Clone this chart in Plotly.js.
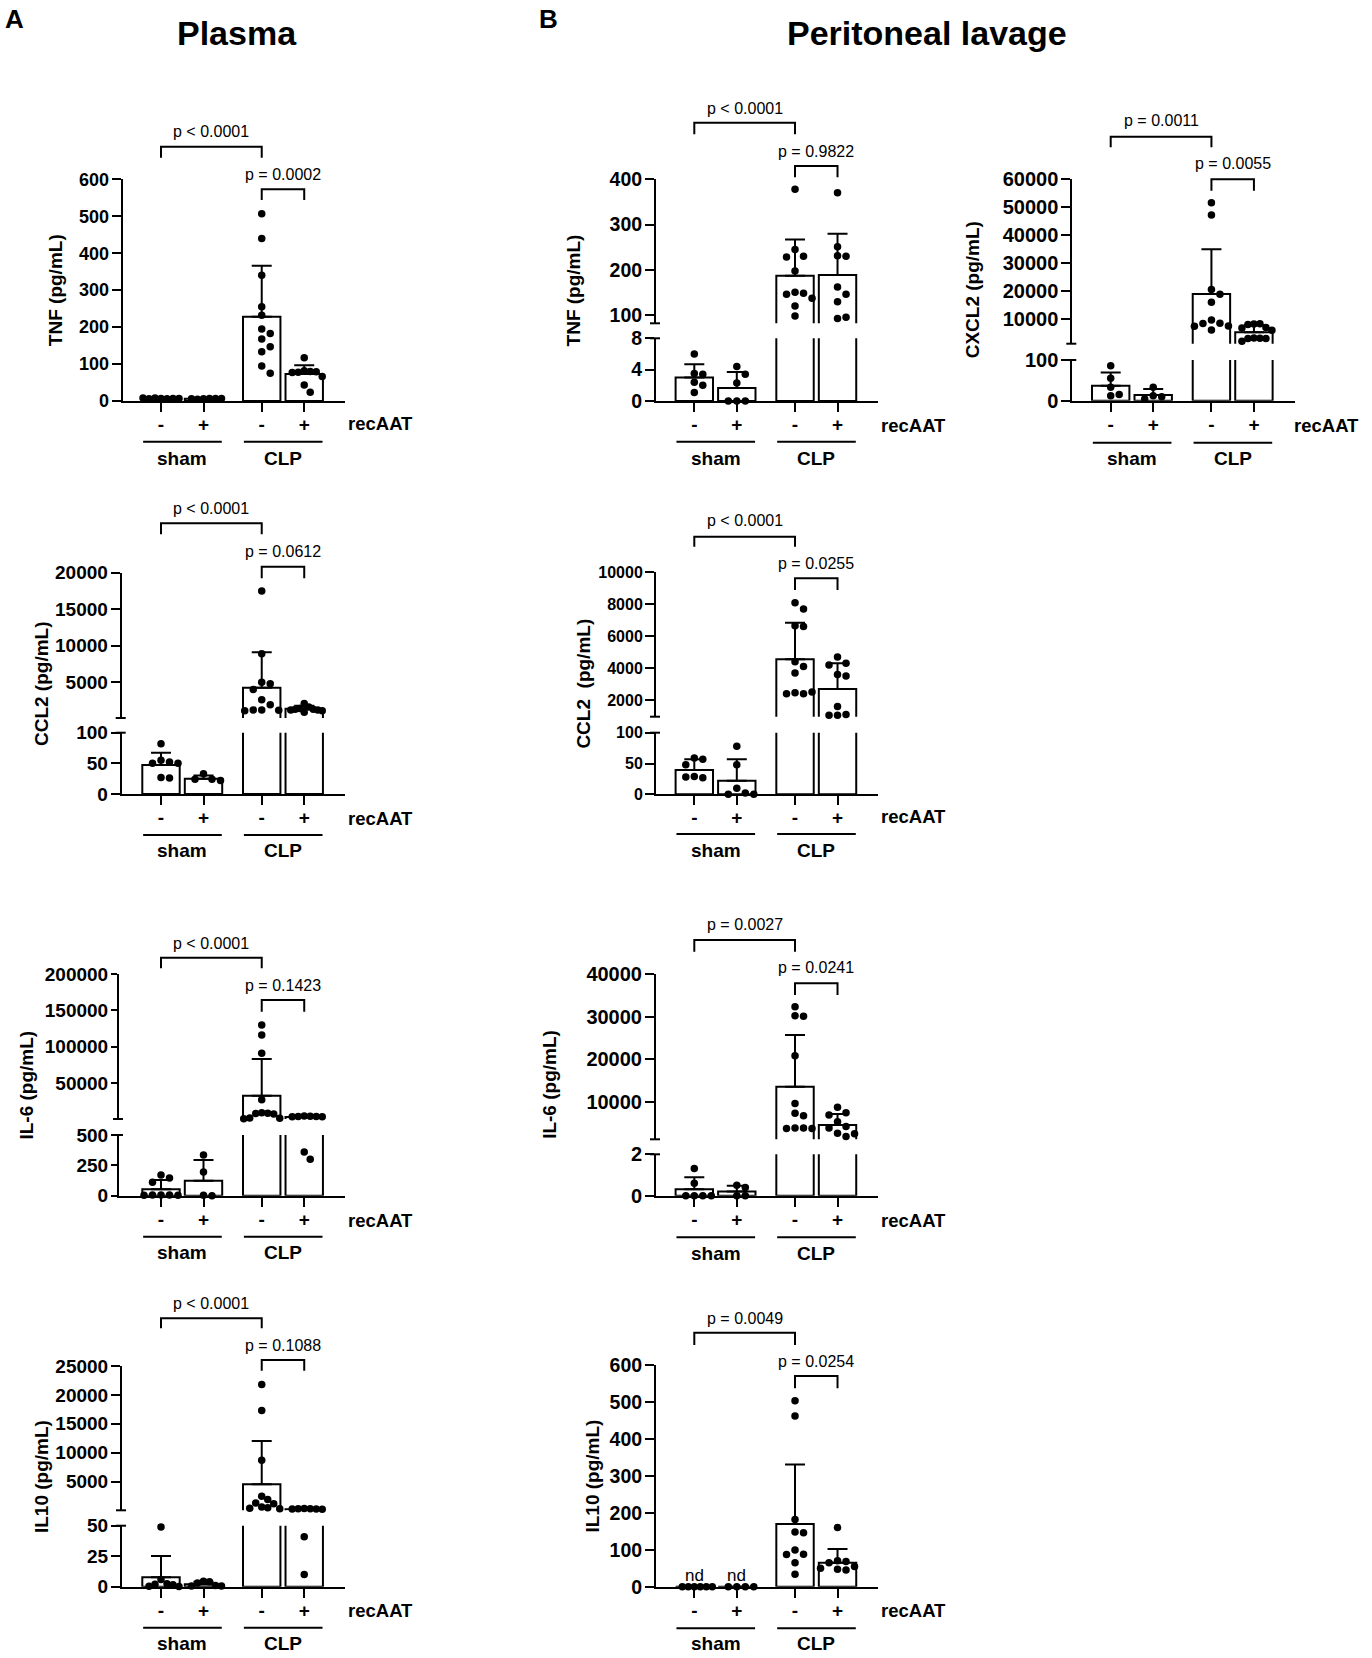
<!DOCTYPE html>
<html>
<head>
<meta charset="utf-8">
<script src="https://cdn.plot.ly/plotly-3.0.1.min.js"></script>
<style>
html, body { margin: 0; padding: 0; background: #fff; }
#chart { width: 1372px; height: 1658px; }
</style>
</head>
<body>
<div id="chart"></div>
<script>
// labels
const treatLabels = ['-', '+', '-', '+'];
const groupNames = ['sham', 'CLP'];

// Plasma TNF  (groups: sham-, sham+, CLP-, CLP+)
const tnfPlasmaPts = [
  [7, 6, 8, 7, 6, 7, 8],
  [6, 7, 5, 7, 6, 7],
  [507, 440, 340, 255, 232, 195, 183, 168, 147, 133, 95, 75],
  [117, 82, 80, 78, 79, 77, 66, 43, 24]
];
const tnfPlasmaMean = [7, 6.3, 228, 73];
const tnfPlasmaSD = [1, 1, 138, 24];
const tnfPlasmaP = ['p < 0.0001', 'p = 0.0002'];

// Peritoneal TNF
const tnfLavPts = [
  [6.0, 3.5, 3.4, 2.4, 2.0, 1.1],
  [4.4, 3.4, 2.3, 0, 0, 0],
  [378, 245, 230, 228, 197, 150, 148, 146, 137, 120, 98],
  [370, 251, 231, 230, 162, 146, 129, 92, 95]
];
const tnfLavMean = [3.0, 1.65, 187, 188.5];
const tnfLavSD = [1.7, 2.05, 80, 91];
const tnfLavP = ['p < 0.0001', 'p = 0.9822'];

// Peritoneal CXCL2
const cxcl2LavPts = [
  [86, 55, 33, 15, 12],
  [33, 12, 10, 4],
  [51600, 47200, 20600, 18900, 16000, 9600, 8500, 8400, 7500, 7400, 6100],
  [8200, 8300, 8000, 7000, 6800, 6000, 3200, 3100, 3000, 3000, 2000]
];
const cxcl2LavMean = [37, 14, 18950, 5240];
const cxcl2LavSD = [32, 15, 16000, 2620];
const cxcl2LavP = ['p = 0.0011', 'p = 0.0055'];

// Plasma CCL2
const ccl2PlasmaPts = [
  [82, 55, 52, 50, 50, 27, 26],
  [33, 24, 24, 22],
  [17500, 8900, 5000, 4800, 4000, 2600, 1900, 1200, 1200, 1150, 1100],
  [2100, 1600, 1400, 1300, 1300, 1200, 1200, 1100, 900]
];
const ccl2PlasmaMean = [47.3, 25, 4260, 1380];
const ccl2PlasmaSD = [20, 5, 4840, 400];
const ccl2PlasmaP = ['p < 0.0001', 'p = 0.0612'];

// Peritoneal CCL2
const ccl2LavPts = [
  [59, 57, 48, 29, 27, 28],
  [78, 48, 10, 2, 0, 0],
  [8100, 7700, 6650, 6600, 4400, 4100, 3700, 2450, 2400, 2400, 2500],
  [4700, 4300, 4200, 3600, 3500, 1600, 1100, 1050, 1050]
];
const ccl2LavMean = [39.4, 22, 4550, 2690];
const ccl2LavSD = [17.4, 34.8, 2290, 1610];
const ccl2LavP = ['p < 0.0001', 'p = 0.0255'];

// Plasma IL-6
const il6PlasmaPts = [
  [170, 145, 110, 6, 5, 5, 4, 3],
  [335, 195, 3, 0],
  [130000, 116000, 91000, 27000, 9000, 8500, 8000, 7500, 2000, 1500, 1000],
  [4500, 4200, 4000, 3800, 3600, 3500, 360, 300]
];
const il6PlasmaMean = [53, 124, 32500, 3300];
const il6PlasmaSD = [76, 170, 50500, 1500];
const il6PlasmaP = ['p < 0.0001', 'p = 0.1423'];

// Peritoneal IL-6
const il6LavPts = [
  [1.32, 0.6, 0, 0, 0, 0],
  [0.5, 0.4, 0, 0],
  [32300, 30200, 30100, 20800, 9600, 7300, 6700, 3800, 3800, 3700, 3700],
  [8700, 7400, 6900, 5300, 4200, 3800, 2600, 2500, 1800]
];
const il6LavMean = [0.31, 0.2, 13500, 4530];
const il6LavSD = [0.58, 0.28, 12150, 2580];
const il6LavP = ['p = 0.0027', 'p = 0.0241'];

// Plasma IL10
const il10PlasmaPts = [
  [49, 6, 2.5, 2, 1.5, 0.3, 0.2],
  [4.5, 4, 3, 1, 0.5, 0.5],
  [21800, 17300, 8700, 2500, 1900, 1300, 1200, 600, 500, 400, 300],
  [350, 330, 300, 280, 260, 250, 41, 10]
];
const il10PlasmaMean = [7.7, 2, 4550, 230];
const il10PlasmaSD = [17.5, 2.1, 7480, 120];
const il10PlasmaP = ['p < 0.0001', 'p = 0.1088'];

// Peritoneal IL10
const il10LavPts = [
  [0, 0, 0, 0, 0, 0],
  [0, 0, 0, 0],
  [503, 462, 182, 148, 146, 99, 88, 87, 65, 34],
  [160, 70, 68, 65, 55, 50, 47, 45]
];
const il10LavMean = [0, 0, 170, 65];
const il10LavSD = [0, 0, 161, 37];
const il10LavP = ['p = 0.0049', 'p = 0.0254'];
const il10LavNd = ['nd', 'nd', '', ''];

// ---- layout geometry (pixels of the 1372x1658 page) ----
const W = 1372, H = 1658;
const U = 42.5;                 // px per x unit
const POS = [0, 1, 2.37, 3.37]; // bar positions
const STEP = 8.5, DIST = 8, HALF = 18;
const FONT = '"Liberation Sans", Arial, Helvetica, sans-serif';
const px2x = v => v / W;
const px2y = v => 1 - v / H;

const panels = [
  { pts: tnfPlasmaPts, mean: tnfPlasmaMean, sd: tnfPlasmaSD, p: tnfPlasmaP, title: 'TNF (pg/mL)',
    xl: 122.7, x0: 161, tx: 55, rx: 380, tf: 18, tl: 9,
    segs: [{lo: 0, hi: 600, top: 179.3, bot: 401, ticks: [0, 100, 200, 300, 400, 500, 600]}],
    br: [146.7, 157.7, 131.7, 189.3, 200, 174], pm: 423.3, ul: 441.7, grp: 458.3 },
  { pts: tnfLavPts, mean: tnfLavMean, sd: tnfLavSD, p: tnfLavP, title: 'TNF (pg/mL)',
    xl: 656, x0: 694.3, tx: 573.3, rx: 913.3, tf: 19.5, tl: 9,
    segs: [{lo: 0, hi: 8, top: 338.3, bot: 401, ticks: [0, 4, 8]},
           {lo: 81.6, hi: 400, top: 179.3, bot: 323.3, ticks: [100, 200, 300, 400]}],
    br: [122.7, 134.3, 108.3, 166, 177.3, 151], pm: 425, ul: 441.7, grp: 458.3 },
  { pts: cxcl2LavPts, mean: cxcl2LavMean, sd: cxcl2LavSD, p: cxcl2LavP, title: 'CXCL2 (pg/mL)',
    xl: 1072.3, x0: 1110.7, tx: 973.3, rx: 1326.7, tf: 20, tl: 9,
    segs: [{lo: 0, hi: 100, top: 360, bot: 400.7, ticks: [0, 100]},
           {lo: 1160, hi: 60000, top: 179.3, bot: 343.7, ticks: [10000, 20000, 30000, 40000, 50000, 60000]}],
    br: [136.7, 147.3, 121, 179.3, 190.7, 164], pm: 425, ul: 442.7, grp: 458.3 },
  { pts: ccl2PlasmaPts, mean: ccl2PlasmaMean, sd: ccl2PlasmaSD, p: ccl2PlasmaP, title: 'CCL2 (pg/mL)',
    xl: 121.7, x0: 161, tx: 41.7, rx: 380, tf: 19, tl: 9,
    segs: [{lo: 0, hi: 100, top: 732.7, bot: 794, ticks: [0, 50, 100]},
           {lo: 100, hi: 20000, top: 572.7, bot: 718, ticks: [5000, 10000, 15000, 20000]}],
    br: [523.3, 534.3, 508.3, 566.7, 578.3, 551.7], pm: 818.3, ul: 835, grp: 850.7 },
  { pts: ccl2LavPts, mean: ccl2LavMean, sd: ccl2LavSD, p: ccl2LavP, title: 'CCL2\u00a0 (pg/mL)',
    xl: 656, x0: 694.3, tx: 583.3, rx: 913.3, tf: 16, tl: 9,
    segs: [{lo: 0, hi: 100, top: 732.7, bot: 794.3, ticks: [0, 50, 100]},
           {lo: 955, hi: 10000, top: 572.3, bot: 716.7, ticks: [2000, 4000, 6000, 8000, 10000]}],
    br: [536.7, 546.7, 520.7, 578.3, 590, 564], pm: 816.7, ul: 834, grp: 850 },
  { pts: il6PlasmaPts, mean: il6PlasmaMean, sd: il6PlasmaSD, p: il6PlasmaP, title: 'IL-6 (pg/mL)',
    xl: 119, x0: 161, tx: 26.7, rx: 380, tf: 19, tl: 6,
    segs: [{lo: 0, hi: 500, top: 1135, bot: 1195.7, ticks: [0, 250, 500]},
           {lo: 500, hi: 200000, top: 974, bot: 1119, ticks: [50000, 100000, 150000, 200000]}],
    br: [957.7, 968.3, 943.3, 1000, 1011.7, 985.7], pm: 1220, ul: 1236.7, grp: 1252.7 },
  { pts: il6LavPts, mean: il6LavMean, sd: il6LavSD, p: il6LavP, title: 'IL-6 (pg/mL)',
    xl: 656, x0: 694.3, tx: 550, rx: 913.3, tf: 20, tl: 9,
    segs: [{lo: 0, hi: 2, top: 1154.3, bot: 1195.7, ticks: [0, 2]},
           {lo: 1170, hi: 40000, top: 974, bot: 1139.3, ticks: [10000, 20000, 30000, 40000]}],
    br: [940, 951.7, 924, 983.3, 995, 967.7], pm: 1220.7, ul: 1237.3, grp: 1253.3 },
  { pts: il10PlasmaPts, mean: il10PlasmaMean, sd: il10PlasmaSD, p: il10PlasmaP, title: 'IL10 (pg/mL)',
    xl: 122, x0: 161, tx: 41.7, rx: 380, tf: 19, tl: 9,
    segs: [{lo: 0, hi: 50, top: 1525.7, bot: 1586.7, ticks: [0, 25, 50]},
           {lo: 50, hi: 25000, top: 1366, bot: 1510.3, ticks: [5000, 10000, 15000, 20000, 25000]}],
    br: [1318.3, 1328.3, 1303.3, 1360, 1370.7, 1345], pm: 1610.7, ul: 1627.7, grp: 1643.3 },
  { pts: il10LavPts, mean: il10LavMean, sd: il10LavSD, p: il10LavP, title: 'IL10 (pg/mL)', nd: il10LavNd, ndY: 1575,
    xl: 656, x0: 694.3, tx: 592.7, rx: 913.3, tf: 19.5, tl: 9,
    segs: [{lo: 0, hi: 600, top: 1365, bot: 1586.7, ticks: [0, 100, 200, 300, 400, 500, 600]}],
    br: [1332.7, 1345, 1318.3, 1376, 1388.3, 1361.7], pm: 1610.7, ul: 1628.3, grp: 1643.3 }
];

const data = [];
const shapes = [];
const annotations = [];
const layout = {
  width: W, height: H,
  margin: {l: 0, r: 0, t: 0, b: 0},
  paper_bgcolor: '#fff', plot_bgcolor: 'rgba(0,0,0,0)',
  showlegend: false, barmode: 'overlay',
  font: {family: FONT, color: '#000'},
  shapes: shapes, annotations: annotations
};

function txt(x, y, text, size, bold, xref, extra) {
  annotations.push(Object.assign({
    x: x, y: y, xref: xref || 'paper', yref: 'paper', text: text, showarrow: false,
    xanchor: 'center', yanchor: 'middle',
    font: {family: FONT, size: size, color: '#000', weight: bold ? 'bold' : 'normal'}
  }, extra || {}));
}

function hline(xa, xb, y, xref) {
  shapes.push({type: 'line', xref: xref, yref: 'paper', x0: xa, x1: xb, y0: px2y(y), y1: px2y(y),
    line: {color: '#000', width: 2}});
}

function bracket(xa, xb, yTop, yLeg, xref) {
  shapes.push({type: 'path', xref: xref, yref: 'paper',
    path: 'M ' + xa + ',' + px2y(yLeg) + ' L ' + xa + ',' + px2y(yTop) +
          ' L ' + xb + ',' + px2y(yTop) + ' L ' + xb + ',' + px2y(yLeg),
    line: {color: '#000', width: 2}});
}

// simple beeswarm in pixel space, returns x offsets in axis units
function swarm(vals, pn) {
  const placed = [];
  const out = vals.map(function (v) {
    const s = pn.segs.find(q => v >= q.lo && v <= q.hi) || pn.segs[0];
    const y = s.bot - (v - s.lo) / (s.hi - s.lo) * (s.bot - s.top);
    let dx = 0;
    for (let k = 0; k < 40; k++) {
      const off = (k % 2 ? 1 : -1) * Math.ceil(k / 2) * STEP;
      if (placed.every(q => (q.x - off) ** 2 + (q.y - y) ** 2 >= DIST * DIST)) { dx = off; break; }
    }
    placed.push({x: dx, y: y});
    return dx;
  });
  const maxOff = Math.max.apply(null, out.map(Math.abs).concat([1e-9]));
  const f = maxOff > HALF ? HALF / maxOff : 1;
  return out.map(o => o * f / U);
}

let yNum = 0;
const sfx = n => (n === 1 ? '' : String(n));

panels.forEach(function (pn, i) {
  const xs = sfx(i + 1);
  const xid = 'x' + xs;
  const xr = pn.x0 + 4.33 * U;
  const ynums = pn.segs.map(function () { yNum += 1; return yNum; });

  layout['xaxis' + xs] = {
    domain: [px2x(pn.xl), px2x(xr)],
    range: [-(pn.x0 - pn.xl) / U, (xr - pn.x0) / U],
    anchor: 'y' + sfx(ynums[0]),
    showline: true, linecolor: '#000', linewidth: 2,
    ticks: 'outside', ticklen: 9, tickwidth: 2, tickcolor: '#000',
    ticklabelstandoff: -4,
    tickmode: 'array', tickvals: POS, ticktext: treatLabels,
    tickfont: {family: FONT, size: 19, color: '#000', weight: 'bold'},
    showgrid: false, zeroline: false, fixedrange: true
  };

  const offs = pn.pts.map(vals => swarm(vals, pn));

  pn.segs.forEach(function (s, j) {
    const ys = sfx(ynums[j]);
    const yid = 'y' + ys;
    layout['yaxis' + ys] = {
      domain: [px2y(s.bot), px2y(s.top)],
      range: [s.lo, s.hi],
      anchor: xid,
      showline: true, linecolor: '#000', linewidth: 2,
      ticks: 'outside', ticklen: pn.tl, tickwidth: 2, tickcolor: '#000',
      ticklabelstandoff: -1,
      tickmode: 'array', tickvals: s.ticks, tickformat: 'd',
      tickfont: {family: FONT, size: pn.tf, color: '#000', weight: 'bold'},
      showgrid: false, zeroline: false, fixedrange: true
    };

    const upper = j > 0;
    const base = upper ? s.lo - 0.05 * (s.hi - s.lo) : 0;
    const idx = [0, 1, 2, 3].filter(g => !upper || pn.mean[g] > s.lo);
    data.push({
      type: 'bar', xaxis: xid, yaxis: yid,
      x: idx.map(g => POS[g]),
      y: idx.map(g => pn.mean[g] - base),
      base: base, width: 0.88,
      marker: {color: '#fff', line: {color: '#000', width: 2}},
      error_y: {type: 'data', symmetric: false,
        array: idx.map(g => pn.sd[g]), arrayminus: idx.map(() => 0),
        color: '#000', thickness: 2, width: 10},
      hoverinfo: 'skip'
    });

    const dx = [], dy = [];
    pn.pts.forEach(function (vals, g) {
      vals.forEach(function (v, k) {
        if (v >= s.lo && v <= s.hi) { dx.push(POS[g] + offs[g][k]); dy.push(v); }
      });
    });
    data.push({
      type: 'scatter', mode: 'markers', xaxis: xid, yaxis: yid,
      x: dx, y: dy, cliponaxis: false,
      marker: {color: '#000', size: 7.5},
      hoverinfo: 'skip'
    });
  });

  // axis break caps
  if (pn.segs.length > 1) {
    [pn.segs[0].top, pn.segs[1].bot].forEach(function (yy) {
      shapes.push({type: 'line', xref: 'paper', yref: 'paper',
        x0: px2x(pn.xl - 6), x1: px2x(pn.xl + 4), y0: px2y(yy), y1: px2y(yy),
        line: {color: '#000', width: 2}});
    });
  }

  // significance brackets
  bracket(POS[0], POS[2], pn.br[0], pn.br[1], xid);
  txt((POS[0] + POS[2]) / 2, px2y(pn.br[2]), pn.p[0], 16, false, xid);
  bracket(POS[2], POS[3], pn.br[3], pn.br[4], xid);
  txt((POS[2] + POS[3]) / 2, px2y(pn.br[5]), pn.p[1], 16, false, xid);

  // group underlines and names
  hline(POS[0] - 0.42, POS[1] + 0.43, pn.ul, xid);
  hline(POS[2] - 0.42, POS[3] + 0.43, pn.ul, xid);
  txt((POS[0] + POS[1]) / 2, px2y(pn.grp), groupNames[0], 19, true, xid);
  txt((POS[2] + POS[3]) / 2, px2y(pn.grp), groupNames[1], 19, true, xid);
  txt(px2x(pn.rx), px2y(pn.pm), 'recAAT', 18.5, true);

  // y title
  const topPx = pn.segs[pn.segs.length - 1].top;
  const botPx = pn.segs[0].bot;
  txt(px2x(pn.tx), px2y((topPx + botPx) / 2), pn.title, 19, true, 'paper', {textangle: -90});

  if (pn.nd) {
    pn.nd.forEach(function (t, g) {
      if (t) txt(POS[g], px2y(pn.ndY), t, 17, false, xid);
    });
  }
});

// headings
txt(px2x(3), px2y(19), 'A', 26, true, 'paper', {xanchor: 'left'});
txt(px2x(237), px2y(33), 'Plasma', 34, true);
txt(px2x(537), px2y(19), 'B', 26, true, 'paper', {xanchor: 'left'});
txt(px2x(927), px2y(33), 'Peritoneal lavage', 34, true);

Plotly.newPlot('chart', data, layout, {displayModeBar: false, staticPlot: true});
</script>
</body>
</html>
